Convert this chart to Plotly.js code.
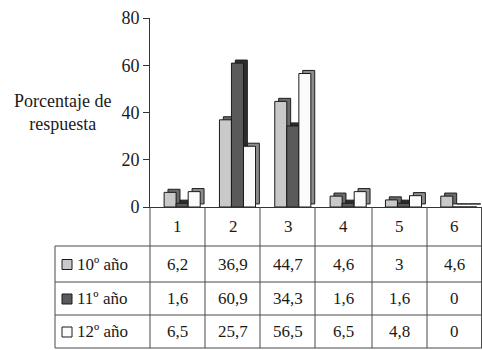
<!DOCTYPE html>
<html>
<head>
<meta charset="utf-8">
<script src="https://cdn.plot.ly/plotly-3.0.1.min.js"></script>
<style>
  html, body { margin: 0; padding: 0; background: #fff; }
</style>
</head>
<body>
<div id="chart"></div>
<script>
// Response categories and percentage per school year
var categories = ['1', '2', '3', '4', '5', '6'];
var seriesNames = ['10º año', '11º año', '12º año'];
var year10 = [6.2, 36.9, 44.7, 4.6, 3, 4.6];
var year11 = [1.6, 60.9, 34.3, 1.6, 1.6, 0];
var year12 = [6.5, 25.7, 56.5, 6.5, 4.8, 0];
var yTicks = [0, 20, 40, 60, 80];
var yTitle = 'Porcentaje de<br>respuesta';

var series = [year10, year11, year12];

// styling of the pseudo-3D bars
var frontColors = ['#c9c9c9', '#5a5a5a', '#fbfbfb'];
var sideColors = ['#6a6a6a', '#2e2e2e', '#8c8c8c'];
var offsets = [-0.245, -0.028, 0.19];
var barW = 0.217;
var depthX = 0.07;
var depthY = 1.3;

var W = 482, H = 350;
var M = { l: 150, r: 0, t: 18, b: 143 };
var plotH = H - M.t - M.b;
var plotW = W - M.l - M.r;
function py(p) { return (H - M.b - p) / plotH; }   // pixel row -> paper y
function px(p) { return (p - M.l) / plotW; }        // pixel column -> paper x

var FONT = '"Liberation Serif", serif';
var INK = '#1a1a1a';
var LINE = '#4a4a4a';

var traces = [];
series.forEach(function (vals, k) {
  // receding side / top face
  traces.push({
    type: 'bar', x: categories, y: vals,
    base: vals.map(function () { return depthY; }),
    offset: offsets[k] + depthX, width: barW,
    marker: { color: sideColors[k], line: { color: '#1e1e1e', width: 1 } },
    hoverinfo: 'skip', showlegend: false
  });
  // front face
  traces.push({
    type: 'bar', x: categories, y: vals, name: seriesNames[k],
    offset: offsets[k], width: barW,
    marker: { color: frontColors[k], line: { color: '#1a1a1a', width: 1 } },
    hoverinfo: 'skip', showlegend: false
  });
});

// data table under the axis
var rowLines = [246, 282, 315, 348];
var rowMid = [264, 298.5, 331.5];
var headerMid = 226.5;
var tableLeft = 55;
var colEdges = [150, 205, 260, 315, 372, 427, 481.5];

var shapes = [];
rowLines.forEach(function (r) {
  shapes.push({ type: 'line', xref: 'paper', yref: 'paper', x0: px(tableLeft), x1: px(482), y0: py(r), y1: py(r),
    line: { color: LINE, width: 1 } });
});
colEdges.forEach(function (c) {
  shapes.push({ type: 'line', xref: 'paper', yref: 'paper', x0: px(c), x1: px(c), y0: py(207), y1: py(348),
    line: { color: LINE, width: 1 } });
});
shapes.push({ type: 'line', xref: 'paper', yref: 'paper', x0: px(tableLeft), x1: px(tableLeft), y0: py(246), y1: py(348),
  line: { color: LINE, width: 1 } });

var annotations = [];
categories.forEach(function (c, i) {
  annotations.push({ x: i, xref: 'x', y: py(headerMid), yref: 'paper', text: c, showarrow: false,
    font: { family: FONT, size: 17, color: INK }, xanchor: 'center', yanchor: 'middle' });
});
series.forEach(function (vals, k) {
  vals.forEach(function (v, i) {
    annotations.push({ x: i, xref: 'x', y: py(rowMid[k]), yref: 'paper',
      text: String(v).replace('.', ','), showarrow: false,
      font: { family: FONT, size: 17, color: INK }, xanchor: 'center', yanchor: 'middle' });
  });
  // row label with its swatch
  annotations.push({ x: px(75), xref: 'paper', y: py(rowMid[k]), yref: 'paper', text: seriesNames[k],
    showarrow: false, font: { family: FONT, size: 17, color: INK }, xanchor: 'left', yanchor: 'middle' });
  shapes.push({ type: 'rect', xref: 'paper', yref: 'paper',
    x0: px(62), x1: px(72), y0: py(rowMid[k] + 5.5), y1: py(rowMid[k] - 4.5),
    fillcolor: frontColors[k], line: { color: '#1a1a1a', width: 1 } });
});

// axis title as two centred lines left of the axis
annotations.push({ x: px(62), xref: 'paper', y: py(112), yref: 'paper', text: yTitle, showarrow: false,
  font: { family: FONT, size: 18, color: INK }, xanchor: 'center', yanchor: 'middle', align: 'center' });

var layout = {
  width: W, height: H,
  margin: M,
  paper_bgcolor: '#ffffff', plot_bgcolor: '#ffffff',
  barmode: 'overlay',
  showlegend: false,
  xaxis: {
    type: 'category', range: [-0.5, 5.5], showticklabels: false, ticks: '',
    showline: true, linecolor: '#333', linewidth: 1, showgrid: false, zeroline: false
  },
  yaxis: {
    range: [0, 80], tickvals: yTicks, ticks: 'outside', ticklen: 6, tickcolor: '#333',
    showline: true, linecolor: '#333', linewidth: 1, showgrid: false, zeroline: false,
    tickfont: { family: FONT, size: 18, color: INK }
  },
  shapes: shapes,
  annotations: annotations
};

Plotly.newPlot('chart', traces, layout, { displayModeBar: false });
</script>
</body>
</html>
